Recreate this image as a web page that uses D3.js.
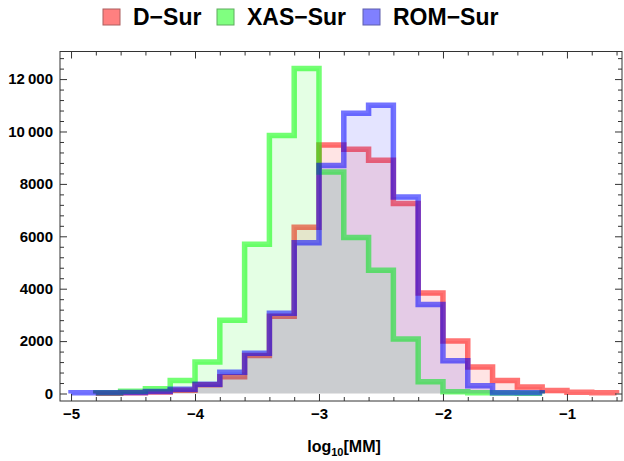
<!DOCTYPE html>
<html>
<head>
<meta charset="utf-8">
<script src="https://cdn.jsdelivr.net/npm/d3@7"></script>
<style>
  body { margin: 0; background: #fff; }
  svg text { font-family: "Liberation Sans", Arial, sans-serif; font-weight: bold; }
</style>
</head>
<body>
<div id="chart"></div>
<script>
// bin edges (log10 MM), 0.2 wide
const binEdges = [-5.0, -4.8, -4.6, -4.4, -4.2, -4.0, -3.8, -3.6, -3.4, -3.2, -3.0,
                  -2.8, -2.6, -2.4, -2.2, -2.0, -1.8, -1.6, -1.4, -1.2, -1.0, -0.8, -0.6];

// counts per bin (null = empty bin)
const dSur   = [null, 10, 25, 60, 120, 330, 640, 1450, 2950, 6350, 9480, 9320, 8900, 7250, 3840, 2000, 1010, 500, 250, 110, 50, 25];
const xasSur = [null, 30, 90, 180, 500, 1200, 2800, 5700, 9850, 12400, 8450, 5950, 4700, 2080, 450, 70, 30, 20, 10, null, null, null];
const romSur = [30, 30, 40, 75, 160, 350, 810, 1540, 3060, 5750, 8700, 10700, 11000, 7500, 3400, 1250, 300, 30, 25, null, null, null];

const seriesNames = ['D\u2212Sur', 'XAS\u2212Sur', 'ROM\u2212Sur'];
const seriesColors = ['#ff0000', '#00ff00', '#0000ff'];
const seriesData = [dSur, xasSur, romSur];

const xMajorTicks = [-5, -4, -3, -2, -1];
const yMajorTicks = [0, 2000, 4000, 6000, 8000, 10000, 12000];

const W = 624, H = 461;
const frame = {left: 60, right: 622, top: 51.5, bottom: 401};

const svg = d3.select('#chart').append('svg')
    .attr('width', W)
    .attr('height', H);

// scales
const x = d3.scaleLinear()
    .domain([-5.089, -0.556])
    .range([frame.left, frame.right]);

const y = d3.scaleLinear()
    .domain([-286, 13053])
    .range([frame.bottom, frame.top]);

// step outline points for each run of non-empty bins
function runs(counts) {
    const out = [];
    let cur = null;
    counts.forEach((c, i) => {
        if (c == null) { if (cur) { out.push(cur); cur = null; } return; }
        if (!cur) { cur = [[binEdges[i], 0]]; }
        cur.push([binEdges[i], c]);
        cur.push([binEdges[i + 1], c]);
        if (i === counts.length - 1 || counts[i + 1] == null) {
            cur.push([binEdges[i + 1], 0]);
            out.push(cur);
            cur = null;
        }
    });
    return out;
}

const line = d3.line()
    .x(d => x(d[0]))
    .y(d => y(d[1]));

const plot = svg.append('g');

seriesData.forEach((counts, k) => {
    const parts = runs(counts);
    // fill
    plot.selectAll(null)
        .data(parts)
        .enter()
        .append('path')
        .attr('d', d => line(d) + 'Z')
        .attr('fill', seriesColors[k])
        .attr('fill-opacity', 0.105)
        .attr('stroke', 'none');
    // edge
    plot.selectAll(null)
        .data(parts)
        .enter()
        .append('path')
        .attr('d', d => line(d))
        .attr('fill', 'none')
        .attr('stroke', seriesColors[k])
        .attr('stroke-opacity', 0.55)
        .attr('stroke-width', 5.5)
        .attr('stroke-linejoin', 'miter');
});

// Eixos / frame
const xMinor = d3.range(-5, -0.55, 0.2).map(v => +v.toFixed(1)).filter(v => !xMajorTicks.includes(v));
const yMinor = d3.range(0, 13001, 400).filter(v => v % 2000 !== 0);
const fmtX = d => (d < 0 ? '\u2212' : '') + Math.abs(d);
const fmtY = d => d >= 10000 ? Math.floor(d / 1000) + '\u2009' + String(d % 1000).padStart(3, '0') : String(d);

function styleAxis(g) {
    g.select('.domain').remove();
    g.selectAll('line').attr('stroke', '#333').attr('stroke-width', 1);
    g.selectAll('text').attr('fill', '#000').style('font-size', '15px').style('font-weight', 'bold')
        .style('font-family', '"Liberation Sans", Arial, sans-serif');
}

// bottom
svg.append('g').attr('transform', `translate(0,${frame.bottom})`)
    .call(d3.axisBottom(x).tickValues(xMinor).tickSize(-4).tickFormat('')).call(styleAxis);
svg.append('g').attr('transform', `translate(0,${frame.bottom})`)
    .call(d3.axisBottom(x).tickValues(xMajorTicks).tickSize(-7).tickPadding(7).tickFormat(fmtX)).call(styleAxis);
// top
svg.append('g').attr('transform', `translate(0,${frame.top})`)
    .call(d3.axisTop(x).tickValues(xMinor).tickSize(-4).tickFormat('')).call(styleAxis);
svg.append('g').attr('transform', `translate(0,${frame.top})`)
    .call(d3.axisTop(x).tickValues(xMajorTicks).tickSize(-7).tickFormat('')).call(styleAxis);
// left
svg.append('g').attr('transform', `translate(${frame.left},0)`)
    .call(d3.axisLeft(y).tickValues(yMinor).tickSize(-4).tickFormat('')).call(styleAxis);
svg.append('g').attr('transform', `translate(${frame.left},0)`)
    .call(d3.axisLeft(y).tickValues(yMajorTicks).tickSize(-7).tickPadding(7).tickFormat(fmtY)).call(styleAxis);
// right
svg.append('g').attr('transform', `translate(${frame.right},0)`)
    .call(d3.axisRight(y).tickValues(yMinor).tickSize(-4).tickFormat('')).call(styleAxis);
svg.append('g').attr('transform', `translate(${frame.right},0)`)
    .call(d3.axisRight(y).tickValues(yMajorTicks).tickSize(-7).tickFormat('')).call(styleAxis);

svg.append('rect')
    .attr('x', frame.left)
    .attr('y', frame.top)
    .attr('width', frame.right - frame.left)
    .attr('height', frame.bottom - frame.top)
    .attr('fill', 'none')
    .attr('stroke', '#333')
    .attr('stroke-width', 1);

// x label
const xl = svg.append('text')
    .attr('x', (frame.left + frame.right) / 2 + 3)
    .attr('y', 452)
    .attr('text-anchor', 'middle')
    .style('font-size', '16px');
xl.append('tspan').text('log');
xl.append('tspan').attr('dy', 4).style('font-size', '11px').text('10');
xl.append('tspan').attr('dy', -4).text('[MM]');

// Legend
const legendX = [103, 217, 363];
const legend = svg.append('g');
seriesNames.forEach((name, k) => {
    const g = legend.append('g').attr('transform', `translate(${legendX[k]},9)`);
    g.append('rect')
        .attr('width', 17)
        .attr('height', 16)
        .attr('fill', d3.interpolateRgb('#ffffff', seriesColors[k])(0.5))
        .attr('stroke', d3.interpolateRgb('#888888', seriesColors[k])(0.3))
        .attr('stroke-width', 1);
    g.append('text')
        .attr('x', 30)
        .attr('y', 15.5)
        .style('font-size', '23px')
        .text(name);
});
</script>
</body>
</html>
